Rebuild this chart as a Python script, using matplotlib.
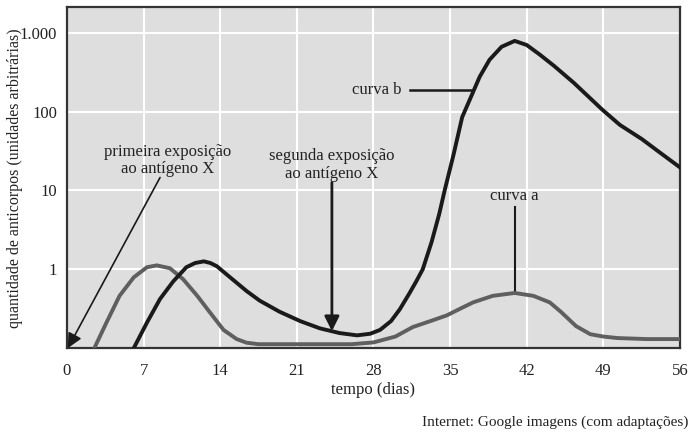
import matplotlib.pyplot as plt

plt.rcParams['font.family'] = ['Liberation Serif', 'DejaVu Serif']

# curva a (resposta primaria) - cinza
dias_a = [2.5, 3.6, 4.8, 6.1, 7.3, 8.2, 9.4, 10.6, 11.9, 13.0, 14.3, 15.5, 16.4, 17.5, 26,
          28, 30, 31.6, 33.2, 34.7, 36, 37.1, 38.9, 40.9, 42.6, 44.1, 45.1, 46.5, 47.8, 49,
          50.3, 53, 56]
anticorpos_a = [0.1, 0.21, 0.46, 0.79, 1.06, 1.12, 1.03, 0.75, 0.46, 0.29, 0.17, 0.13, 0.117,
                0.112, 0.112, 0.118, 0.14, 0.185, 0.22, 0.26, 0.32, 0.38, 0.46, 0.50, 0.46,
                0.38, 0.29, 0.19, 0.15, 0.14, 0.134, 0.13, 0.13]

# curva b (resposta secundaria) - preta
dias_b = [6.1, 7.3, 8.5, 9.7, 10.9, 11.7, 12.5, 13.1, 13.7, 14.9, 16.4, 17.6, 19.4, 21.3,
          23.1, 24.9, 26.5, 27.7, 28.6, 29.6, 30.4, 31.3, 31.9, 32.5, 33.3, 34.0, 34.5,
          35.3, 36.1, 37.0, 37.7, 38.6, 39.7, 40.9, 42.0, 43.2, 44.5, 46.3, 48.9, 50.5,
          52.5, 54.2, 56]
anticorpos_b = [0.1, 0.21, 0.42, 0.70, 1.06, 1.2, 1.26, 1.2, 1.09, 0.79, 0.53, 0.40, 0.29,
                0.22, 0.178, 0.155, 0.145, 0.152, 0.17, 0.22, 0.31, 0.5, 0.7, 1.0, 2.2, 5.0,
                10, 28, 85, 165, 277, 455, 665, 790, 700, 528, 380, 232, 106, 68, 45, 30, 19.6]

x_ticks = [0, 7, 14, 21, 28, 35, 42, 49, 56]
y_ticks = [1, 10, 100, 1000]
y_labels = ['1', '10', '100', '1.000']

fig = plt.figure(figsize=(6.9, 4.34), dpi=100)
ax = fig.add_axes([0.0971, 0.198, 0.8884, 0.786])
ax.set_facecolor('#dedede')

ax.plot(dias_a, anticorpos_a, color='#5f5f5f', lw=2.8, solid_joinstyle='round', zorder=3)
ax.plot(dias_b, anticorpos_b, color='#1a1a1a', lw=2.8, solid_joinstyle='round', zorder=3)

ax.set_yscale('log')
ax.set_xlim(0, 56)
ax.set_ylim(0.1, 2130)
ax.set_xticks(x_ticks)
ax.set_yticks(y_ticks)
ax.set_yticklabels(y_labels)
ax.minorticks_off()
ax.tick_params(length=0, labelsize=12, colors='#222222')
ax.tick_params(axis='x', pad=11)
ax.tick_params(axis='y', pad=7)
ax.grid(True, color='white', lw=1.5)
ax.set_axisbelow(True)
for s in ax.spines.values():
    s.set_color('#333333')
    s.set_linewidth(1.6)

ax.set_xlabel('tempo (dias)', fontsize=12, labelpad=2, color='#222222')
fig.text(0.022, 0.59, 'quantidade de anticorpos (unidades arbitrárias)', rotation=90,
         ha='center', va='center', fontsize=11.5, color='#222222')

# anotacoes
ax.text(9.2, 24, 'primeira exposição\nao antígeno X', ha='center', va='center',
        fontsize=12, color='#222222', linespacing=1.15)
ax.annotate('', xy=(0.08, 0.1), xytext=(8.5, 14.6),
            arrowprops=dict(arrowstyle='-|>', color='#1a1a1a', lw=1.2,
                            mutation_scale=22, shrinkA=0, shrinkB=0))

ax.text(24.2, 21, 'segunda exposição\nao antígeno X', ha='center', va='center',
        fontsize=12, color='#222222', linespacing=1.15)
ax.annotate('', xy=(24.2, 0.164), xytext=(24.2, 12.6),
            arrowprops=dict(arrowstyle='-|>', color='#1a1a1a', lw=2,
                            mutation_scale=22, shrinkA=0, shrinkB=0))

ax.text(30.6, 190, 'curva b', ha='right', va='center', fontsize=12, color='#222222')
ax.plot([31.3, 37.1], [190, 190], color='#1a1a1a', lw=1.8, zorder=2)

ax.text(40.9, 8.5, 'curva a', ha='center', va='center', fontsize=12, color='#222222')
ax.plot([40.9, 40.9], [6.1, 0.5], color='#1a1a1a', lw=1.5, zorder=2)

fig.text(0.998, 0.028, 'Internet: Google imagens (com adaptações)', ha='right', va='center',
         fontsize=11, color='#222222')

fig.savefig('out.png', dpi=100)
